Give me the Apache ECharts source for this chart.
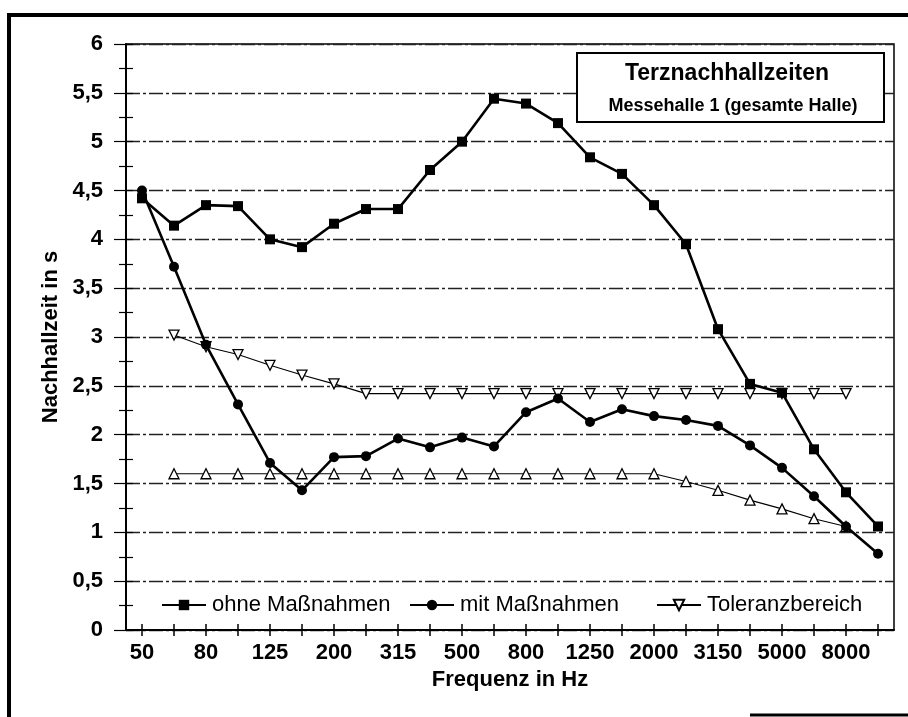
<!DOCTYPE html>
<html>
<head>
<meta charset="utf-8">
<script src="https://cdn.jsdelivr.net/npm/echarts@6/dist/echarts.min.js"></script>
<style>html,body{margin:0;padding:0;background:#fff;}#c{width:908px;height:717px;}</style>
</head>
<body>
<div id="c"></div>
<script>
const categories = ['50','63','80','100','125','160','200','250','315','400','500','630','800','1000','1250','1600','2000','2500','3150','4000','5000','6300','8000','10000'];
const ohneMassnahmen = [4.42,4.14,4.35,4.34,4.00,3.92,4.16,4.31,4.31,4.71,5.00,5.44,5.39,5.19,4.84,4.67,4.35,3.95,3.08,2.52,2.43,1.85,1.41,1.06];
const mitMassnahmen = [4.50,3.72,2.92,2.31,1.71,1.43,1.77,1.78,1.96,1.87,1.97,1.88,2.23,2.37,2.13,2.26,2.19,2.15,2.09,1.89,1.66,1.37,1.06,0.78];
const toleranzOben = [null,3.02,2.90,2.82,2.71,2.61,2.52,2.42,2.42,2.42,2.42,2.42,2.42,2.42,2.42,2.42,2.42,2.42,2.42,2.42,2.42,2.42,2.42,null];
const toleranzUnten = [null,1.60,1.60,1.60,1.60,1.60,1.60,1.60,1.60,1.60,1.60,1.60,1.60,1.60,1.60,1.60,1.60,1.52,1.43,1.33,1.24,1.14,1.06,null];
const titleText = 'Terznachhallzeiten';
const subtitleText = 'Messehalle 1 (gesamte Halle)';

const FONT = "'Liberation Sans', Arial, sans-serif";
const chart = echarts.init(document.getElementById('c'), null, {renderer: 'canvas'});
const gridDash = [14, 3, 3, 3];

const legendBase = {
  orient: 'horizontal', top: 589, itemWidth: 44, itemHeight: 13,
  textStyle: {fontFamily: FONT, fontSize: 22, color: '#000', padding: [0,0,0,1]}
};

chart.setOption({
  backgroundColor: '#fff',
  animation: false,
  grid: {left: 126, right: 14, top: 44, bottom: 87, show: true, borderColor: '#000', borderWidth: 1.5},
  xAxis: [{
    type: 'category', data: categories, boundaryGap: true,
    name: 'Frequenz in Hz', nameLocation: 'middle', nameGap: 37,
    nameTextStyle: {fontFamily: FONT, fontSize: 22, fontWeight: 'bold', color: '#000'},
    axisLine: {show: true, lineStyle: {color: '#000', width: 2}},
    axisTick: {show: true, alignWithLabel: true, interval: 0, length: 6, lineStyle: {color: '#000', width: 1.5}},
    axisLabel: {interval: 1, margin: 12, fontFamily: FONT, fontSize: 22, fontWeight: 'bold', color: '#000'},
    splitLine: {show: false}
  }, {
    type: 'category', data: categories, boundaryGap: true, position: 'bottom',
    axisLine: {show: false},
    axisTick: {show: true, inside: true, alignWithLabel: true, interval: 0, length: 6, lineStyle: {color: '#000', width: 1.5}},
    axisLabel: {show: false}, splitLine: {show: false}
  }],
  yAxis: [{
    type: 'value', min: 0, max: 6, interval: 0.5,
    name: 'Nachhallzeit in s', nameLocation: 'middle', nameGap: 62, nameRotate: 90,
    nameTextStyle: {fontFamily: FONT, fontSize: 22, fontWeight: 'bold', color: '#000'},
    axisLine: {show: true, lineStyle: {color: '#000', width: 2}},
    axisTick: {show: true, length: 12, lineStyle: {color: '#000', width: 1.2}},
    minorTick: {show: true, splitNumber: 2, length: 7, lineStyle: {color: '#000', width: 1.2}},
    axisLabel: {margin: 23, fontFamily: FONT, fontSize: 22, fontWeight: 'bold', color: '#000',
      formatter: v => String(v).replace('.', ',')},
    splitLine: {show: true, lineStyle: {color: '#222', width: 1.3, type: gridDash}}
  }, {
    type: 'value', min: 0, max: 6, interval: 0.25, position: 'left',
    axisLine: {show: false},
    axisTick: {show: true, inside: true, length: 7, lineStyle: {color: '#000', width: 1.2}},
    axisLabel: {show: false}, splitLine: {show: false}
  }],
  legend: [
    Object.assign({}, legendBase, {left: 156, data: ['ohne Maßnahmen']}),
    Object.assign({}, legendBase, {left: 404, data: ['mit Maßnahmen']}),
    Object.assign({}, legendBase, {left: 651, data: ['Toleranzbereich']})
  ],
  series: [
    {name: 'Toleranzbereich', type: 'line', data: toleranzOben, symbol: 'triangle', symbolRotate: 180, symbolSize: 10,
      lineStyle: {color: '#000', width: 1.1}, itemStyle: {color: '#fff', borderColor: '#000', borderWidth: 1.3}, z: 2},
    {name: 'Toleranzbereich', type: 'line', data: toleranzUnten, symbol: 'triangle', symbolSize: 10,
      lineStyle: {color: '#000', width: 1.1}, itemStyle: {color: '#fff', borderColor: '#000', borderWidth: 1.3}, z: 2},
    {name: 'ohne Maßnahmen', type: 'line', data: ohneMassnahmen, symbol: 'rect', symbolSize: 10,
      lineStyle: {color: '#000', width: 2.6}, itemStyle: {color: '#000'}, z: 3},
    {name: 'mit Maßnahmen', type: 'line', data: mitMassnahmen, symbol: 'circle', symbolSize: 10,
      lineStyle: {color: '#000', width: 2.6}, itemStyle: {color: '#000'}, z: 3}
  ],
  graphic: [
    {type: 'polyline', shape: {points: [[9, 717], [9, 15], [908, 15]]}, style: {stroke: '#000', lineWidth: 4, fill: null}},
    {type: 'line', shape: {x1: 750, y1: 715, x2: 908, y2: 715}, style: {stroke: '#000', lineWidth: 3}},
    {type: 'rect', shape: {x: 577, y: 53, width: 307, height: 69}, style: {fill: '#fff', stroke: '#000', lineWidth: 2}, z: 10},
    {type: 'text', x: 727, y: 74, z: 11, style: {text: titleText, fontFamily: FONT, fontSize: 23, fontWeight: 'bold', fill: '#000', align: 'center', verticalAlign: 'middle'}},
    {type: 'text', x: 733, y: 106, z: 11, style: {text: subtitleText, fontFamily: FONT, fontSize: 18, fontWeight: 'bold', fill: '#000', align: 'center', verticalAlign: 'middle'}}
  ]
});
</script>
</body>
</html>
